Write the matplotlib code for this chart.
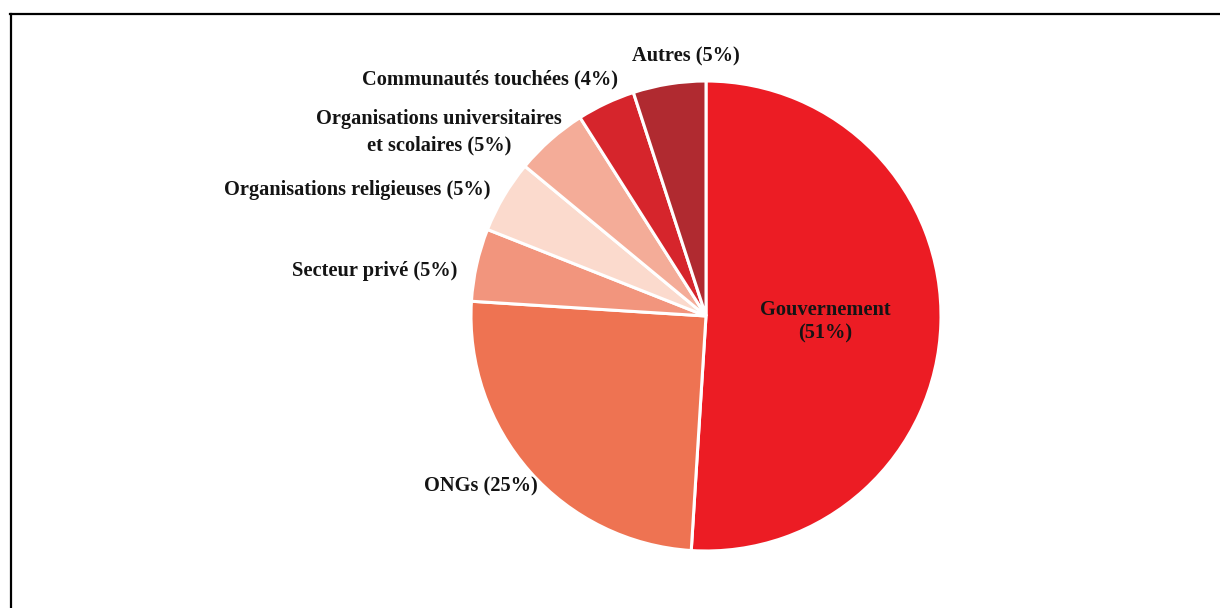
import matplotlib
matplotlib.use("Agg")
import matplotlib.pyplot as plt
from matplotlib.lines import Line2D

# Parts des acteurs (en %), dans l'ordre horaire depuis le haut
acteurs = ['Gouvernement', 'ONGs', 'Secteur privé', 'Organisations religieuses',
           'Organisations universitaires\net scolaires', 'Communautés touchées', 'Autres']
parts = [51, 25, 5, 5, 5, 4, 5]
couleurs = ['#EC1C24', '#EE7352', '#F2957D', '#FBDACD', '#F4AC98', '#D6252C', '#B02A30']

W, H = 1220, 608
fig = plt.figure(figsize=(W / 100, H / 100), dpi=100)
ax = fig.add_axes([0, 0, 1, 1])

cx, cy, r = 706, H - 316, 235
ax.pie(parts, colors=couleurs, startangle=90, counterclock=False,
       center=(cx, cy), radius=r,
       wedgeprops=dict(edgecolor='white', linewidth=2.2))
ax.set_aspect('auto')
ax.set_xlim(0, W)
ax.set_ylim(0, H)
ax.axis('off')

police = dict(family='Liberation Serif', weight='bold', fontsize=14.7, color='#141414')

def etiquette(i, x, y, ha, interligne=1.2):
    texte = f"{acteurs[i]} ({parts[i]}%)"
    ax.text(x, H - y, texte, ha=ha, va='center', multialignment='center',
            linespacing=interligne, **police)

etiquette(6, 686, 56, 'center')
etiquette(5, 618, 79, 'right')
etiquette(4, 562, 132, 'right', interligne=1.42)
etiquette(3, 491, 190, 'right')
etiquette(2, 457, 271, 'right')
etiquette(1, 538, 486, 'right')
ax.text(825, H - 322, f"{acteurs[0]}\n({parts[0]}%)", ha='center', va='center',
        multialignment='center', linespacing=1.22, **police)

# cadre : traits en haut et à gauche
fig.add_artist(Line2D([10 / W, 1], [1 - 13.5 / H, 1 - 13.5 / H], color='black', lw=1.6,
                      transform=fig.transFigure))
fig.add_artist(Line2D([10.5 / W, 10.5 / W], [0, 1 - 13.5 / H], color='black', lw=1.6,
                      transform=fig.transFigure))

fig.savefig('out.png', dpi=100)
